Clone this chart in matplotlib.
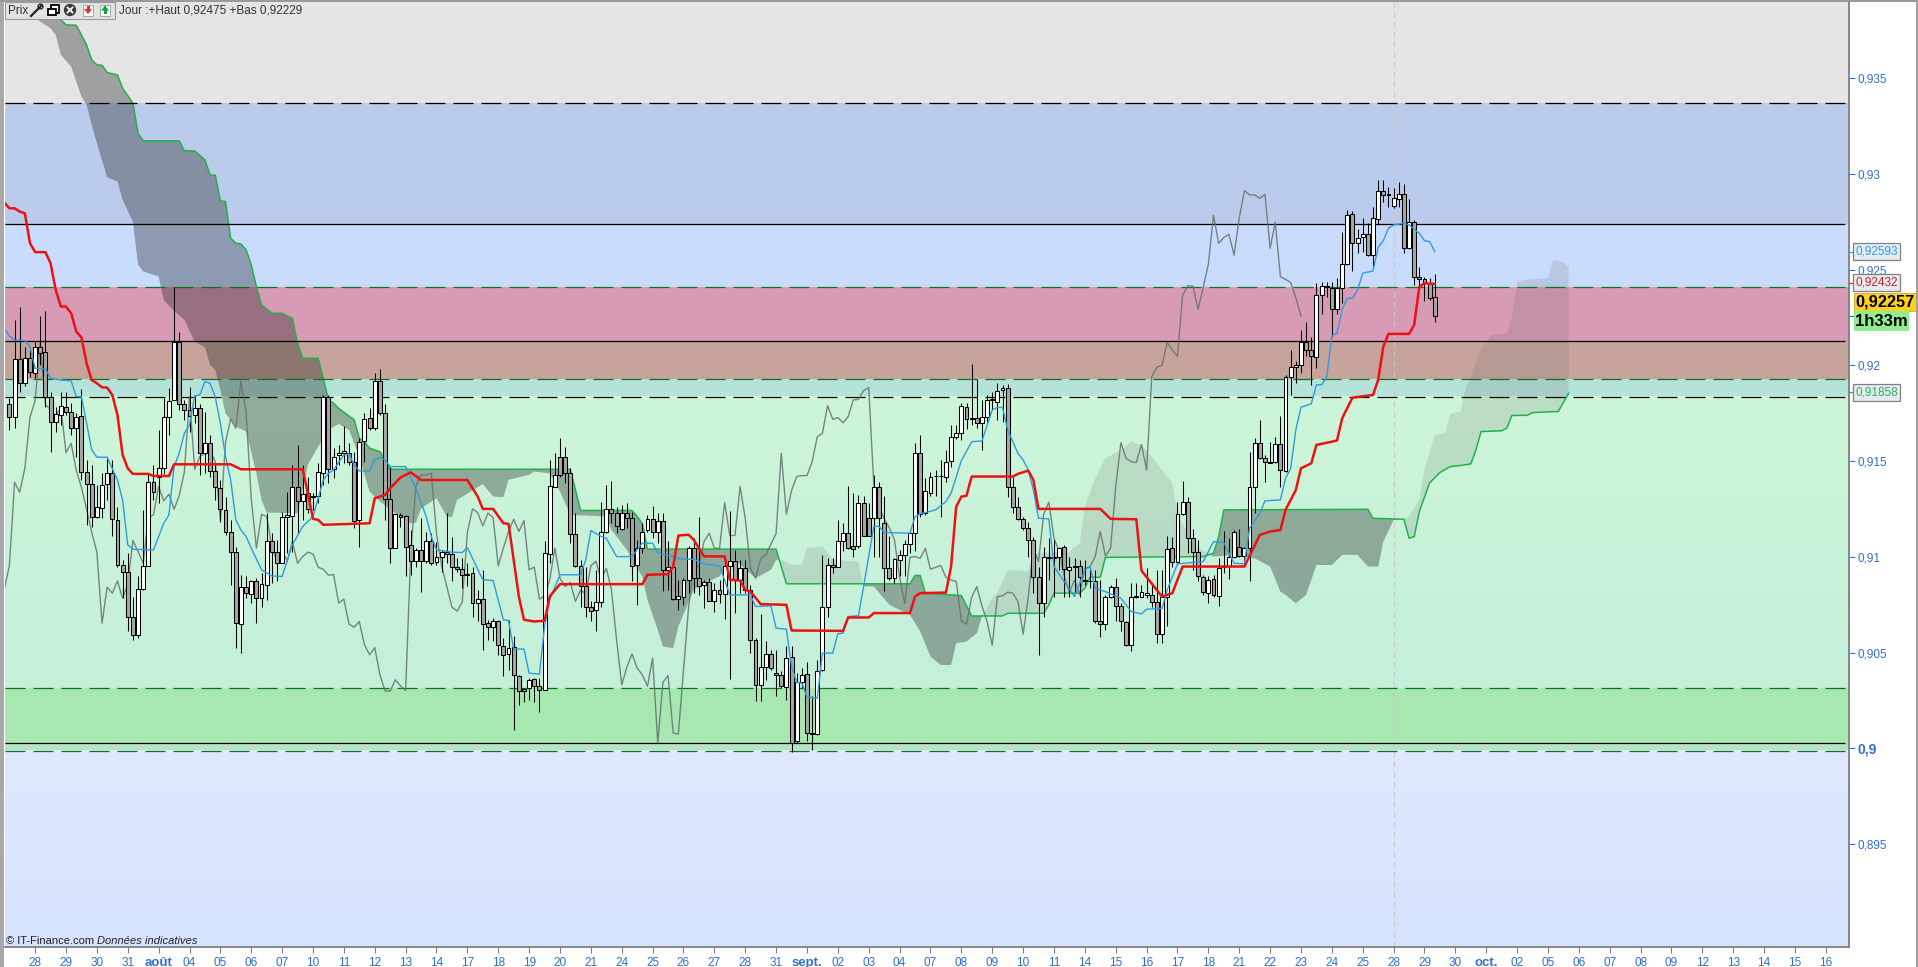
import numpy as np
import matplotlib
matplotlib.use('Agg')  # Non-interactive backend
import matplotlib.pyplot as plt
import matplotlib.transforms as mtransforms
from matplotlib.colors import LinearSegmentedColormap
from matplotlib.patches import Rectangle, Circle, Polygon

W, H = 1918, 967
plt.rcParams['font.family'] = ['Liberation Sans', 'DejaVu Sans']

# all prices below are in 1e-5 units (91796 -> 0,91796)
bar_open = [91796,91732,92031,91909,92037,91962,92094,92068,91836,91706,
91741,91784,91758,91671,91737,91441,91379,91207,91253,91379,
91436,91193,90956,90919,90685,90592,90831,90954,91389,91419,
91462,91732,91819,92120,91796,91767,91741,91775,91544,91593,
91450,91358,91243,91132,91027,90648,90841,90806,90874,90787,
90853,91085,91027,90966,91207,91215,91367,91292,91332,91314,
91320,91436,91836,91457,91530,91544,91544,91497,91193,91607,
91723,91671,91918,91753,91304,91045,91219,91213,91059,90980,
91033,90977,91081,90972,91001,91027,91015,90945,90938,90911,
90914,90758,90779,90653,90632,90662,90535,90493,90528,90375,
90309,90314,90361,90323,90305,91014,91367,91523,91523,91436,
91118,90953,90845,90737,90720,90763,91128,91250,91231,91146,
91228,91201,90956,91045,91141,91196,91130,91189,90932,90946,
90779,90789,90880,91045,90888,90852,90866,90767,90827,90806,
90953,90977,90880,90940,90827,90566,90331,90424,90493,90392,
90382,90319,90474,90036,90344,90387,90079,90076,90410,90737,
90955,90949,91080,91123,91054,91054,91283,91205,91201,91367,
91179,90940,90888,90984,91010,91066,91123,91544,91228,91332,
91421,91421,91415,91502,91627,91645,91784,91718,91727,91700,
91732,91819,91810,91871,91883,91366,91259,91199,91149,91088,
90893,90757,90992,90997,90997,91050,90931,90945,90954,90872,
90876,90876,90667,90648,90789,90844,90743,90657,90538,90790,
90792,90799,90799,90766,90596,90789,91044,90975,91222,91285,
91097,91027,90893,90813,90883,90797,90945,90952,91001,91050,
91004,91044,91366,91596,91514,91497,91494,91587,91450,91941,
91990,92000,92120,92080,92042,92366,92411,92406,92293,92406,
92528,92789,92637,92669,92684,92575,92762,92912,92893,92834,
92867,92893,92611,92747,92463,92449,92432,92359]

bar_high = [91828,92237,92303,92097,92080,92123,92257,92284,91862,91784,
91862,91862,91802,91749,91875,91506,91480,91375,91436,91514,
91506,91262,90984,91019,90792,90897,91245,91436,91480,91662,
91828,91880,92409,92172,91819,91885,91845,91798,91758,91636,
91480,91401,91314,91193,91053,90906,90897,90879,90888,90914,
91227,91123,91088,91236,91340,91480,91584,91480,91419,91332,
91488,91845,91845,91567,91584,91683,91593,91549,91619,91749,
91775,91958,91979,91798,91471,91222,91227,91219,91140,91045,
91201,91132,91123,91079,91036,91227,91102,90992,90992,90966,
90949,90827,90932,90671,90680,90671,90575,90671,90584,90384,
90314,90366,90366,90366,91080,91506,91541,91619,91572,91462,
91228,90984,90949,90767,90932,91288,91375,91398,91262,91271,
91280,91236,91088,91175,91219,91266,91228,91228,91080,90984,
90880,90888,91054,91097,91210,90880,90888,90862,90880,90993,
91241,91036,90984,90984,90853,90575,90700,90561,90514,90514,
90401,90532,90532,90392,90418,90453,90271,90462,91010,90993,
90993,91193,91175,91370,91332,91323,91315,91280,91428,91393,
91315,91106,90993,91036,91088,91141,91593,91637,91410,91445,
91454,91506,91558,91688,91688,91801,91801,92007,91927,91819,
91845,91862,91906,91897,91901,91419,91314,91210,91184,91105,
90949,91053,91097,91088,91053,91062,90999,90992,90984,90984,
90949,90931,90879,90801,90853,90888,90757,90662,90862,90862,
90853,90940,90853,90931,90931,91109,91105,91288,91396,91314,
91144,91088,90905,90897,90905,90992,91135,91097,91140,91145,
91053,91549,91619,91714,91532,91601,91627,91735,91949,92080,
92025,92185,92225,92150,92428,92437,92437,92437,92454,92695,
92811,92808,92710,92768,92742,92829,92968,92968,92933,92924,
92956,92945,92869,92759,92512,92460,92454,92477]

bar_low = [91662,91671,91862,91892,91941,91932,92002,91784,91549,91654,
91688,91741,91636,91523,91401,91167,91158,91201,91201,91297,
91106,90949,90784,90610,90563,90575,90827,90954,91297,91280,
91433,91636,91819,91767,91715,91654,91697,91428,91436,91419,
91297,91184,91114,90853,90523,90500,90784,90758,90653,90737,
90775,90862,90871,90966,91019,91027,91123,91192,91227,91245,
91280,91375,91384,91410,91480,91488,91480,91149,91053,91497,
91662,91662,91741,91193,90966,91045,91158,90897,90905,90949,
90818,90966,90958,90958,90923,90966,90871,90923,90836,90845,
90688,90667,90514,90566,90558,90488,90375,90410,90097,90227,
90244,90253,90244,90187,90305,90967,91367,91419,91384,91071,
90949,90740,90688,90662,90610,90740,91123,91175,91123,91141,
91149,90871,90749,91019,91132,91097,91071,90819,90827,90775,
90723,90749,90810,90810,90801,90732,90767,90714,90758,90674,
90361,90706,90810,90810,90497,90245,90245,90358,90410,90271,
90314,90253,89983,90027,90314,90036,89992,90071,90401,90688,
90914,90949,91028,91040,91001,91045,91106,91106,91001,91001,
90819,90880,90862,90897,90897,91019,91028,91210,91219,91315,
91315,91210,91393,91470,91613,91610,91666,91688,91671,91558,
91706,91767,91714,91706,91314,91231,91192,91140,91001,90810,
90488,90688,90879,90792,90931,90792,90792,90810,90792,90853,
90836,90653,90580,90618,90783,90662,90610,90536,90510,90783,
90792,90783,90740,90549,90552,90636,90949,90966,91219,91018,
90931,90871,90801,90761,90792,90745,90914,90883,90992,91001,
90966,90871,91227,91509,91392,91488,91488,91363,91445,91846,
91910,91959,92049,91898,91985,92268,92359,92155,92268,92324,
92524,92495,92585,92594,92571,92503,92733,92855,92825,92820,
92829,92585,92608,92420,92420,92338,92341,92228]

bar_close = [91732,92031,91909,92037,91967,92094,92066,91833,91706,91744,
91788,91758,91671,91732,91441,91379,91210,91259,91374,91436,
91196,90958,90918,90685,90592,90831,90954,91389,91337,91462,
91729,91816,92120,91796,91767,91735,91779,91544,91593,91450,
91363,91248,91128,91024,90653,90841,90810,90874,90784,90857,
91085,91027,90966,91207,91219,91367,91292,91327,91248,91320,
91441,91836,91457,91523,91541,91555,91497,91187,91598,91720,
91671,91918,91753,91304,91045,91222,91210,91053,90980,91033,
90977,91081,90966,91001,91024,91015,90945,90935,90904,90907,
90758,90779,90648,90632,90662,90540,90488,90526,90384,90300,
90298,90358,90326,90302,91019,91370,91428,91428,91436,91120,
90953,90845,90737,90716,90763,91128,91250,91231,91161,91228,
91205,90953,91045,91132,91196,91132,91189,90932,90946,90779,
90793,90880,91045,90888,90845,90866,90767,90827,90806,90953,
90977,90880,90940,90827,90566,90331,90424,90493,90418,90384,
90323,90471,90027,90344,90380,90079,90074,90406,90740,90955,
90949,91080,91123,91045,91043,91283,91111,91111,91367,91201,
90940,90888,90988,91010,91066,91123,91541,91222,91346,91419,
91424,91424,91497,91627,91645,91789,91718,91727,91700,91732,
91819,91822,91868,91883,91366,91259,91199,91151,91088,90893,
90757,90997,91001,90992,91044,90935,90945,90954,90893,90879,
90871,90667,90648,90789,90844,90743,90662,90538,90792,90796,
90815,90810,90766,90596,90789,91041,90975,91222,91285,91097,
91027,90897,90815,90879,90801,90940,90949,91001,91132,91004,
91044,91366,91596,91514,91497,91492,91587,91453,91941,91990,
92000,92120,92080,92046,92366,92416,92414,92293,92406,92528,
92783,92637,92667,92684,92575,92768,92912,92890,92890,92872,
92893,92611,92747,92463,92449,92432,92354,92258]

# kijun (red), read at its break points
kijun_bar = [-1,0,1,2,3,4,5,7,8,9,10,11,12,13,14,15,16,17,18,19,20,21,22,23,24,27,28,31,32,43,45,57,58,59,60,61,70,71,72,73,74,76,78,80,89,91,92,94,96,97,98,99,100,102,104,105,107,123,124,128,129,130,132,133,135,139,140,142,143,144,146,151,152,162,163,167,168,175,176,177,182,183,184,185,186,187,195,196,198,199,200,212,214,219,220,224,226,228,240,243,245,247,248,250,251,253,254,258,259,261,265,266,267,268,272,273,274,275,277]
kijun_val = [92850,92820,92820,92803,92794,92638,92591,92591,92533,92394,92307,92307,92272,92176,92146,92010,91923,91906,91885,91883,91845,91741,91532,91462,91433,91433,91422,91422,91483,91483,91457,91457,91332,91198,91193,91167,91175,91306,91314,91323,91358,91414,91441,91401,91401,91315,91250,91250,91175,91172,90984,90793,90671,90662,90666,90793,90857,90857,90906,90909,90949,91111,91115,91088,91002,91002,90880,90876,90827,90819,90753,90749,90615,90613,90683,90683,90706,90706,90793,90810,90813,90949,91262,91314,91319,91419,91419,91433,91450,91401,91250,91250,91198,91196,90928,90792,90810,90949,90949,91114,91132,91140,91245,91349,91462,91488,91584,91607,91723,91831,91845,91924,92098,92164,92164,92211,92411,92428,92425]

# tenkan (blue)
tenkan_bar = [-1,0,1,3,4,5,7,8,10,12,13,14,15,16,17,19,21,22,23,24,28,30,31,32,33,34,35,36,37,38,39,40,41,42,43,44,45,46,47,49,51,53,55,57,59,61,62,63,65,66,67,68,70,71,72,73,74,77,79,81,82,83,86,88,89,90,92,94,96,97,98,100,101,103,104,105,107,111,112,113,115,116,118,121,123,125,126,129,130,133,135,138,140,144,145,148,149,151,152,153,154,155,157,158,160,161,162,163,165,166,168,169,170,175,176,177,180,182,183,185,187,189,191,192,193,194,196,197,198,199,200,202,203,205,207,209,210,211,213,216,218,220,221,224,225,227,232,234,236,238,240,241,243,244,247,248,249,250,251,253,254,255,256,257,258,259,260,261,262,263,265,266,267,268,269,271,272,274,275,276,277]
tenkan_val = [92193,92153,92132,92129,92097,91984,91981,91932,91923,91918,91836,91836,91697,91558,91520,91520,91401,91297,91062,91039,91036,91175,91219,91471,91541,91645,91688,91840,91845,91915,91906,91836,91697,91523,91401,91193,91140,91106,91045,90932,90900,90897,91062,91158,91210,91401,91436,91454,91532,91537,91480,91448,91448,91506,91518,91506,91471,91471,91358,91210,91106,91036,91024,91022,91048,90992,90880,90876,90671,90667,90518,90518,90392,90387,90636,90775,90906,90906,90984,91137,91106,91097,91001,91001,91071,91071,91019,91001,90989,90987,90963,90953,90801,90801,90740,90744,90627,90622,90427,90344,90340,90267,90262,90497,90497,90598,90601,90688,90692,90845,91161,91158,91127,91123,91210,91224,91245,91289,91332,91502,91601,91605,91767,91780,91780,91662,91540,91506,91453,91349,91201,91198,90949,90870,90792,90931,90949,90836,90818,90783,90714,90702,90726,90731,90827,90963,90975,91079,91074,90966,90963,91149,91227,91292,91297,91410,91462,91663,91781,91799,91898,91898,91938,92155,92167,92293,92350,92350,92394,92481,92493,92616,92651,92716,92733,92742,92733,92689,92651,92646,92594]

# senkou span B, the edge drawn in green
span_b_bar = [3,10,11,13,15,16,17,18,19,21,22,24,25,26,33,34,36,38,39,40,41,42,43,44,45,46,47,48,49,51,53,55,56,57,60,61,62,63,64,67,68,69,70,72,74,109,111,121,122,123,124,149,151,175,176,177,178,183,185,187,193,194,201,202,203,208,209,210,212,213,232,234,235,236,264,265,271,272,273,274,276,278,280,282,284,285,286,290,291,292,295,296,301,303]
span_b_val = [94300,93804,93778,93776,93673,93595,93569,93567,93529,93517,93447,93369,93212,93172,93172,93120,93120,93073,92994,92993,92859,92855,92664,92638,92634,92603,92525,92412,92316,92272,92272,92245,92115,92037,92037,91932,91819,91802,91775,91715,91619,91601,91567,91549,91457,91457,91242,91242,91210,91172,91040,91040,90859,90859,90902,90902,90810,90801,90797,90691,90691,90705,90705,90749,90810,90810,90836,90893,90893,90997,91001,91018,91105,91245,91248,91201,91196,91097,91105,91236,91386,91440,91471,91477,91485,91558,91654,91658,91672,91738,91739,91753,91759,91854]

# senkou span A, the other edge of the cloud, no line on it
span_a_bar = [3,4,8,9,10,12,14,15,16,17,19,21,22,24,25,26,29,30,32,34,36,38,39,40,41,42,44,46,48,49,50,56,58,60,62,64,66,67,68,69,70,71,74,78,79,80,83,85,86,87,92,94,96,97,101,102,105,107,109,116,117,120,122,123,124,126,127,129,130,133,135,138,140,141,145,148,149,150,152,154,155,158,160,165,166,168,171,175,177,179,181,183,184,186,188,189,191,192,194,198,199,206,208,209,211,213,216,218,220,223,226,227,230,233,234,238,242,245,247,248,250,252,254,257,259,262,264,266,267,269,271,272,274,275,277,279,280,282,283,284,285,286,288,291,292,293,296,299,300,302,303]
span_a_val = [94000,93830,93760,93725,93621,93560,93403,93360,93255,93160,92982,92960,92864,92751,92525,92490,92464,92341,92284,92237,92124,92094,92002,91976,91871,91749,91680,91654,91436,91297,91231,91227,91480,91575,91662,91694,91662,91593,91523,91428,91341,91314,91245,91175,91178,91253,91306,91210,91207,91297,91380,91315,91311,91402,91428,91445,91436,91341,91219,91210,91141,91036,90940,90897,90775,90619,90532,90523,90636,90827,90862,90897,90967,90984,90888,90932,90984,90984,90958,90958,91045,91054,90984,90975,90845,90845,90749,90697,90610,90479,90435,90435,90549,90557,90601,90688,90784,90810,90931,90923,91018,91027,91071,91262,91410,91514,91558,91601,91584,91488,91384,91227,91062,91018,91001,91010,90992,90949,90818,90801,90757,90801,90957,90957,91010,91010,90949,90949,91079,91192,91196,91210,91297,91454,91637,91645,91745,91759,91880,91941,92020,92080,92159,92167,92254,92437,92451,92455,92550,92538,92515]

# horizontal levels
solid_levels = [92736, 92125, 90026]
black_dash_levels = [93368, 91833]
green_dash_levels = [92409, 91927, 90313, 89987]

band_edges = [93900, 93368, 92736, 92409, 92125, 91927, 91833, 90313, 90026, 89987, 88962]
band_colors = ['#E5E5E6', '#BBCBEB', '#CADCFD', '#D89BB5', '#C6A49C', '#B5E3DA', None, '#A6E8B0', '#B4E6C6', None]

y_ticks = [0.895, 0.9, 0.905, 0.91, 0.915, 0.92, 0.925, 0.93, 0.935]
y_labels = ['0,895', '0,9', '0,905', '0,91', '0,915', '0,92', '0,925', '0,93', '0,935']
day_labels = ['28','29','30','31','août','04','05','06','07','10','11','12','13','14','17','18','19','20','21',
              '24','25','26','27','28','31','sept.','02','03','04','07','08','09','10','11','14','15','16','17','18',
              '21','22','23','24','25','28','29','30','oct.','02','05','06','07','08','09','12','13','14','15','16']
month_labels = ['août', 'sept.', 'oct.']


def to_price(vals):
    return np.array(vals) / 1e5


fig = plt.figure(figsize=(W / 100, H / 100), dpi=100, facecolor='white')
ax = fig.add_axes([5 / W, 1 - 947 / H, (1849 - 5) / W, (947 - 1.5) / H])
xmin, xmax = -0.855, 357.5
ymin, ymax = 0.88962, 0.93900

# background bands
for k, col in enumerate(band_colors):
    if col is not None:
        ax.axhspan(band_edges[k + 1] / 1e5, band_edges[k] / 1e5, color=col, lw=0, zorder=0)
green_cmap = LinearSegmentedColormap.from_list('g', ['#CDF6D8', '#C4EFDA'])
blue_cmap = LinearSegmentedColormap.from_list('b', ['#DFE8FE', '#D6E3FE'])
grad = np.linspace(0, 1, 64).reshape(-1, 1)
ax.imshow(grad, cmap=green_cmap, extent=[xmin, xmax, 90313 / 1e5, 91833 / 1e5], aspect='auto', zorder=0)
ax.imshow(grad, cmap=blue_cmap, extent=[xmin, xmax, ymin, 89987 / 1e5], aspect='auto', zorder=0)

# cloud
a_bar, a_val = np.array(span_a_bar), to_price(span_a_val)
b_bar, b_val = np.array(span_b_bar), to_price(span_b_val)
grid = np.union1d(a_bar, b_bar).astype(float)
a_grid = np.interp(grid, a_bar, a_val)
b_grid = np.interp(grid, b_bar, b_val)
ax.fill_between(grid, a_grid, b_grid, where=a_grid <= b_grid, interpolate=True,
                color='#161616', alpha=0.33, lw=0, zorder=1)
ax.fill_between(grid, a_grid, b_grid, where=a_grid >= b_grid, interpolate=True,
                color='#606060', alpha=0.16, lw=0, zorder=1)
ax.plot(b_bar, b_val, color='#22B14C', lw=1.1, zorder=2)

# levels
line_end = 356.7
ax.hlines(np.array(solid_levels) / 1e5, xmin, line_end, color='black', lw=0.9, zorder=3)
ax.hlines(np.array(black_dash_levels) / 1e5, xmin, line_end, color='black', lw=0.9,
          linestyles=[(0, (16, 6.4))], zorder=3)
ax.hlines(np.array(green_dash_levels) / 1e5, xmin, line_end, color='#0C741E', lw=0.9,
          linestyles=[(0, (16, 6.4))], zorder=3)
ax.axvline(269, color='#C8C8C8', lw=0.8, ls=(0, (5, 4)), zorder=2)

# chikou = closes pulled back 26 bars
closes = to_price(bar_close)
ax.plot(np.arange(-1, 252), closes[25:], color='#66736C', lw=1.0, alpha=0.85, zorder=4)

# candles
x = np.arange(len(bar_open))
opens, highs, lows = to_price(bar_open), to_price(bar_high), to_price(bar_low)
ax.vlines(x, lows, highs, color='black', lw=0.75, zorder=5)
up = closes >= opens
ax.bar(x[up], (closes - opens)[up], bottom=opens[up], width=0.76, color='white',
       edgecolor='black', lw=0.75, zorder=6)
ax.bar(x[~up], (opens - closes)[~up], bottom=closes[~up], width=0.76, color='#A6A6A6',
       edgecolor='black', lw=0.75, zorder=6)

ax.plot(tenkan_bar, to_price(tenkan_val), color='#2E9BE0', lw=1.0, zorder=7)
ax.plot(kijun_bar, to_price(kijun_val), color='#EE1111', lw=1.8, zorder=8)

ax.set_xlim(xmin, xmax)
ax.set_ylim(ymin, ymax)

# axes look
for side in ['top', 'left']:
    ax.spines[side].set_visible(False)
for side in ['right', 'bottom']:
    ax.spines[side].set_color('#7F7F7F')
    ax.spines[side].set_linewidth(1.3)
ax.yaxis.tick_right()
ax.set_yticks(y_ticks)
ax.set_yticklabels(y_labels, fontsize=8.5, color='#2F6FD0')
ax.tick_params(axis='y', length=4, width=0.8, color='#2F6FD0', pad=2)
ax.get_yticklabels()[1].set_fontweight('bold')
ax.get_yticklabels()[1].set_fontsize(10)

ax.set_xticks(5 + 6 * np.arange(len(day_labels)))
ax.set_xticklabels(day_labels, fontsize=8.5, color='#2F6FD0')
ax.tick_params(axis='x', length=4, width=0.8, color='#7F7F7F', pad=3)
for lab in ax.get_xticklabels():
    if lab.get_text() in month_labels:
        lab.set_fontweight('bold')
        lab.set_fontsize(9.5)

# value tags on the price scale
for val, txt, col in [(92593, '0,92593', '#2E9BE0'), (92432, '0,92432', '#D02020'), (91858, '0,91858', '#2FB050')]:
    ax.annotate(txt, xy=(1, val / 1e5), xycoords=('axes fraction', 'data'), xytext=(4.6, 0),
                textcoords='offset points', va='center', ha='left', fontsize=8.5, color=col, annotation_clip=False,
                bbox=dict(boxstyle='square,pad=0.2', fc='#E4EBF2', ec='#808080', lw=0.9), zorder=10)
    ax.plot([1, 1.0027], [val / 1e5] * 2, transform=ax.get_yaxis_transform(), color=col, lw=0.9, clip_on=False)
ax.plot([1, 1.0027], [92257 / 1e5] * 2, transform=ax.get_yaxis_transform(), color='#2F6FD0', lw=0.9, clip_on=False)

# anything below is the platform's own furniture, placed in pixels
px = mtransforms.Affine2D().scale(1 / W, -1 / H).translate(0, 1) + fig.transFigure


def add_px(patch):
    patch.set_transform(px)
    fig.add_artist(patch)
    patch.set_zorder(20)


add_px(Rectangle((1854, 293), 62, 18, fc='#FFD21A', ec='#C8A000', lw=0.5))
add_px(Rectangle((1854, 311), 55, 20, fc='#90EE90', ec='none'))
fig.text(1885 / W, 1 - 302 / H, '0,92257', fontsize=11.8, fontweight='bold', color='black',
         ha='center', va='center', zorder=21)
fig.text(1881.5 / W, 1 - 321.5 / H, '1h33m', fontsize=12, fontweight='bold', color='black',
         ha='center', va='center', zorder=21)

# left strip, outer frame
add_px(Rectangle((0, 0), 4, 967, fc='#A8A8A8', ec='none'))
add_px(Rectangle((0, 0), 1918, 1.5, fc='#9A9A9A', ec='none'))
add_px(Rectangle((1916, 0), 2, 967, fc='#A0A0A0', ec='none'))

# toolbar
add_px(Rectangle((5, 2), 110, 16.5, fc='#E2E2E2', ec='#9A9A9A', lw=0.8))
fig.text(8 / W, 1 - 10.5 / H, 'Prix', fontsize=8.5, color='#333333', va='center', zorder=21)
fig.text(119 / W, 1 - 10.5 / H, 'Jour :+Haut 0,92475 +Bas 0,92229', fontsize=8.5, color='#333333', va='center', zorder=21)
# wrench
wrench = plt.Line2D([31, 41], [16, 6], color='#222222', lw=1.6, transform=px, zorder=21)
fig.add_artist(wrench)
add_px(Circle((40.5, 6.5), 2.4, fc='white', ec='#222222', lw=1))
# windows
add_px(Rectangle((51, 5), 7.5, 7.5, fc='white', ec='black', lw=1.3))
add_px(Rectangle((48, 9), 7.5, 6, fc='white', ec='black', lw=1.3))
# close button
add_px(Circle((70, 10), 6.2, fc='#3A3A3A', ec='none'))
fig.add_artist(plt.Line2D([67.5, 72.5], [7.5, 12.5], color='white', lw=1.3, transform=px, zorder=22))
fig.add_artist(plt.Line2D([67.5, 72.5], [12.5, 7.5], color='white', lw=1.3, transform=px, zorder=22))
# page arrows
add_px(Rectangle((83, 4.5), 10, 11.5, fc='#F5F5F5', ec='#A0A8B8', lw=0.7))
add_px(Polygon([(84, 9), (92, 9), (88, 14)], fc='#E03030', ec='none'))
add_px(Rectangle((86.5, 6), 3, 3.5, fc='#E03030', ec='none'))
add_px(Rectangle((100, 4.5), 10, 11.5, fc='#F5F5F5', ec='#A0A8B8', lw=0.7))
add_px(Polygon([(101, 10.5), (109, 10.5), (105, 5.5)], fc='#18A040', ec='none'))
add_px(Rectangle((103.5, 10), 3, 4, fc='#18A040', ec='none'))

# bottom credit
fig.text(5.5 / W, 1 - 941 / H, '© IT-Finance.com', fontsize=8, color='#222222', va='center', zorder=21)
fig.text(97 / W, 1 - 941 / H, 'Données indicatives', fontsize=8, style='italic', color='#222222', va='center', zorder=21)

fig.savefig('out.png', dpi=100)
plt.close(fig)
